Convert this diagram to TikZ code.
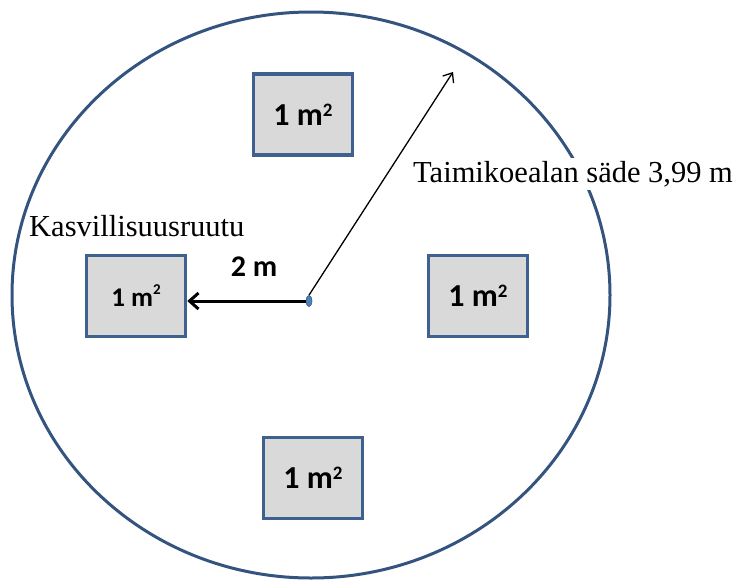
\documentclass[tikz,border=0pt]{standalone}
\usepackage{fontspec}
\setmainfont{Liberation Serif}
\newfontfamily\carlito{Carlito}
\usetikzlibrary{arrows.meta,shapes.geometric}
\definecolor{ringblue}{HTML}{34547F}
\definecolor{boxblue}{HTML}{3F6190}
\definecolor{boxgray}{HTML}{D9D9D9}
\definecolor{dotblue}{HTML}{4F81BD}
\newcommand{\sqm}{1 m\raisebox{0.28em}{\fontsize{19}{22}\selectfont 2}}
\begin{document}
\begin{tikzpicture}[x=1pt,y=-1pt,
  plotbox/.style={draw=boxblue, line width=3.5pt, fill=boxgray, minimum width=99pt, minimum height=81pt, inner sep=0pt, font=\carlito\bfseries\fontsize{32}{38}\selectfont},
  lbl/.style={font=\fontsize{30.5}{36}\selectfont, inner sep=0pt}]
\useasboundingbox (0,0) rectangle (742,579);
\draw[ringblue, line width=3pt] (311,295) ellipse [x radius=299pt, y radius=283pt];
\node[plotbox] (top) at (303,114.5) {\sqm};
\node[plotbox, font=\carlito\bfseries\fontsize{27}{32}\selectfont] (left) at (136,296) {1 m\raisebox{0.45em}{\fontsize{15}{18}\selectfont 2}};
\node[plotbox] (right) at (478,296) {\sqm};
\node[plotbox] (bottom) at (313,478) {\sqm};
\node[draw=boxblue, fill=dotblue, ellipse, minimum width=6pt, minimum height=11pt, inner sep=0pt, line width=0.7pt] (c) at (309,301) {};
\coordinate (tip) at (453,72);
\draw[line width=1.3pt, -{Straight Barb[length=8pt,width=13pt]}] (c.north) -- (tip);
\draw[line width=3pt, -{Straight Barb[length=9pt,width=16pt]}] (c.west) -- (c.west -| left.east);
\node[font=\carlito\bfseries\fontsize{30}{36}\selectfont, inner sep=0pt] (dist) at (254,267) {2 m};
\node[lbl, anchor=base west, fill=white, inner sep=3pt] (radius) at (410,182) {Taimikoealan säde 3,99 m};
\node[lbl, anchor=base west] (kas) at (29,236) {Kasvillisuusruutu};
\end{tikzpicture}
\end{document}
